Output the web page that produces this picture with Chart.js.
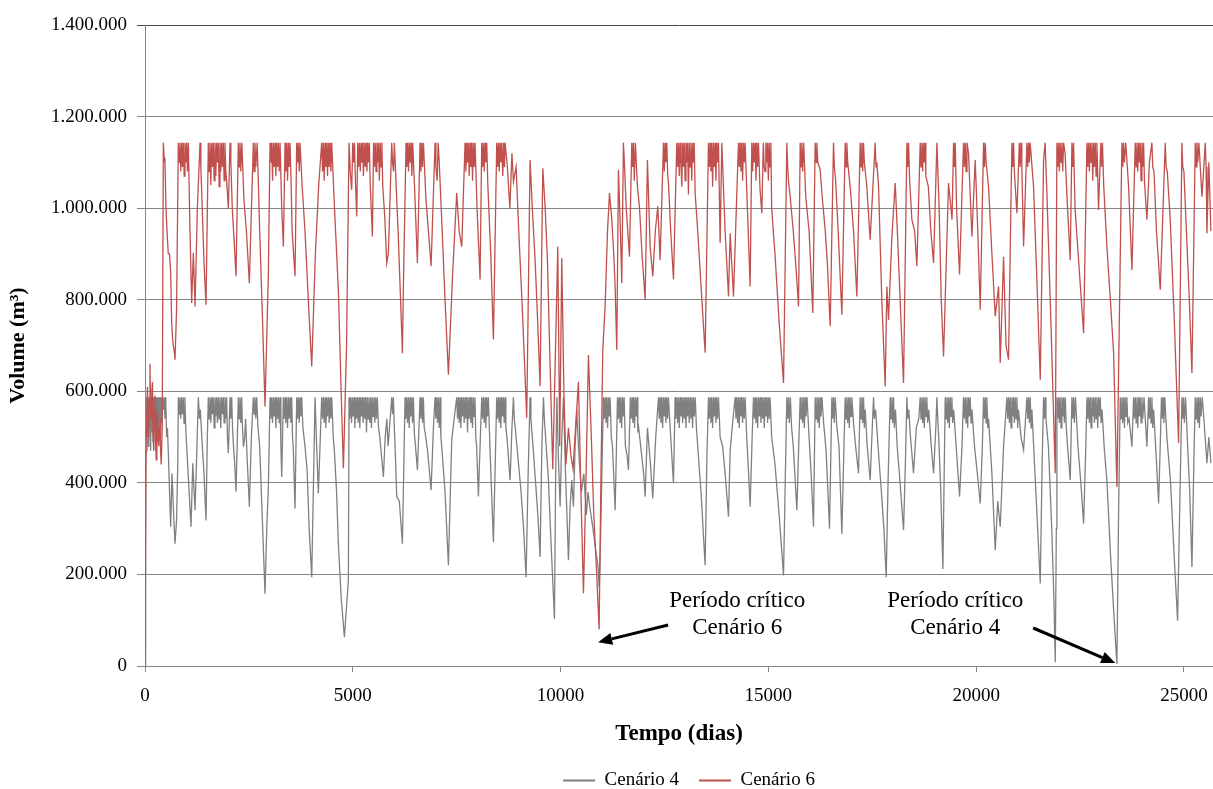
<!DOCTYPE html>
<html>
<head>
<meta charset="utf-8">
<script src="https://cdn.jsdelivr.net/npm/chart.js@4.4.1/dist/chart.umd.min.js"></script>
<style>
html, body { margin: 0; padding: 0; background: #fff; overflow: hidden; }
#box { width: 1213px; height: 800px; }
</style>
</head>
<body>
<div id="box"><canvas id="grafico" width="1213" height="800"></canvas></div>
<script>
// volumes in thousands of m3, [dia, volume]
const cenario4 = [
  [0,0],[15,420],[30,587],[45,500],[60,587],[75,480],[90,587],[105,520],[120,587],[135,470],[150,587],[165,510],[180,587],[195,490],[210,587],
  [225,530],[240,587],[255,470],[270,587],[285,510],[300,587],[315,490],[330,587],[345,540],[360,587],[375,500],[390,587],[405,530],[420,587],
  [441,560],[460,587],[480,540],[500,587],[520,500],[540,520],[562,465],[590,380],[618,304],[650,421],[690,330],[722,267],[760,318],[790,450],
  [802,587],[820,550],[840,587],[860,540],[880,587],[900,550],[920,587],[940,530],[960,587],[980,520],[1003,479],[1050,400],[1107,304],[1150,443],
  [1204,340],[1250,480],[1284,587],[1310,540],[1330,560],[1380,479],[1420,420],[1468,318],[1500,500],[1524,587],
  [1544,540],[1564,587],[1584,531],[1604,587],[1624,550],[1644,587],[1664,520],[1684,587],[1704,545],[1724,587],[1744,531],[1764,587],[1784,540],
  [1804,587],[1824,520],[1844,587],[1864,550],[1884,587],[1904,531],[1924,587],[1944,540],[1964,587],[1984,500],[2006,465],[2046,587],[2066,540],
  [2086,587],[2106,520],[2130,480],[2160,440],[2190,381],[2246,587],[2266,540],[2286,587],[2306,531],[2326,587],[2346,520],[2370,479],[2400,500],
  [2420,540],[2460,450],[2511,348],[2560,500],[2607,587],[2627,550],[2647,587],[2667,540],[2687,587],[2720,520],[2760,480],[2820,330],[2888,158],
  [2930,300],[2969,392],[3009,587],
  [3029,540],[3049,587],[3069,531],[3089,587],[3109,545],[3129,587],[3149,520],[3169,587],[3189,540],[3209,587],[3229,530],[3249,587],[3270,480],
  [3290,413],[3330,587],[3350,540],[3370,587],[3390,531],[3410,587],[3430,520],[3450,587],[3470,540],[3490,587],[3510,531],[3530,587],[3550,500],
  [3570,470],[3610,344],[3651,587],[3671,540],[3691,587],[3711,531],[3731,587],[3751,545],[3771,587],[3800,520],[3850,480],[3900,430],[3950,300],
  [4012,194],[4092,587],[4130,480],[4172,377],[4252,587],[4272,540],[4292,587],[4312,531],[4332,587],[4352,520],[4372,587],[4392,545],[4412,587],
  [4432,531],[4452,587],[4472,540],[4493,587],[4530,500],[4560,465],[4610,380],[4653,267],[4720,150],[4798,63],[4850,130],[4894,187],[4910,587],
  [4930,540],[4950,587],[4970,531],[4990,587],[5010,545],[5030,587],[5050,520],[5070,587],[5090,540],[5110,587],[5130,531],[5150,587],[5170,520],
  [5190,587],[5210,545],[5230,587],[5250,531],[5270,587],[5290,540],[5310,587],[5330,510],[5350,587],[5370,540],[5390,587],[5410,531],[5430,587],
  [5450,520],[5470,587],[5490,545],[5510,587],[5530,531],[5550,587],[5570,540],[5590,587],[5620,520],[5650,500],[5690,460],[5737,413],[5780,500],
  [5820,540],[5850,480],[5900,540],[5937,587],[5957,550],[5977,587],[6000,520],[6030,450],[6057,370],[6120,360],[6194,267],[6258,587],[6278,540],
  [6298,587],[6318,531],[6338,587],[6358,520],[6378,587],[6398,545],[6418,587],[6438,531],[6458,587],[6480,510],[6500,490],[6555,428],[6619,587],
  [6639,540],[6659,587],[6679,531],[6699,587],[6719,520],[6740,510],[6800,470],[6884,384],[6940,520],[6980,587],[7000,540],[7020,587],[7040,531],
  [7060,587],[7080,520],[7100,587],[7120,500],[7140,480],[7220,380],[7301,220],[7381,494],[7440,540],[7501,587],
  [7521,540],[7541,587],[7561,531],[7581,587],[7601,520],[7621,587],[7641,545],[7661,587],[7681,531],[7701,587],[7721,540],[7741,587],[7761,510],
  [7781,587],[7801,540],[7821,587],[7841,531],[7861,587],[7881,520],[7901,587],[7921,545],[7941,587],[7960,500],[7980,480],[8023,370],[8070,500],
  [8103,587],[8123,540],[8143,587],[8163,531],[8183,587],[8203,520],[8223,587],[8243,545],[8263,587],[8300,480],[8340,380],[8384,271],[8430,450],
  [8464,587],[8484,540],[8504,587],[8524,531],[8544,587],[8564,520],[8584,587],[8604,545],[8624,587],[8644,531],[8664,587],[8684,520],[8710,500],
  [8785,406],[8830,520],[8866,587],[8886,540],[8910,520],[8960,470],[9050,380],[9110,300],[9170,194],[9220,420],[9266,587],[9286,540],[9320,500],
  [9400,400],[9460,320],[9507,238],[9550,480],[9588,587],[9610,540],[9640,500],[9708,406],[9780,250],[9853,103],[9880,400],[9910,587],[9950,450],
  [9989,348],[10030,500],[10069,587],[10090,520],[10120,420],[10190,231],[10230,350],[10270,406],[10310,348],[10350,480],[10390,560],[10420,500],
  [10450,450],[10500,380],[10560,420],[10620,330],[10660,380],[10700,350],[10780,300],[10850,250],[10900,220],[10928,172],[10960,267],[11000,450],
  [11032,587],[11052,540],[11072,587],[11092,531],[11112,587],[11132,520],[11152,587],[11172,545],[11192,587],[11220,500],[11250,480],[11313,340],
  [11370,587],[11390,540],[11410,587],[11430,531],[11450,587],[11470,520],[11490,587],[11510,545],[11530,587],[11560,480],[11600,460],[11634,428],
  [11680,587],[11700,540],[11720,587],[11740,531],[11760,587],[11780,520],[11800,587],[11820,545],[11840,587],[11860,510],[11880,520],[11940,470],
  [12000,420],[12035,370],[12091,520],[12155,450],[12219,366],[12290,500],[12320,540],[12356,587],[12376,540],[12396,587],[12416,531],[12436,587],
  [12456,520],[12476,587],[12496,545],[12516,587],[12536,531],[12556,587],[12576,540],[12596,587],[12650,500],[12717,399],[12757,587],[12777,540],
  [12797,587],[12817,531],[12837,587],[12857,520],[12877,587],[12897,545],[12917,587],[12937,531],[12957,587],[12977,540],[12997,587],[13017,520],
  [13037,587],[13057,545],[13077,587],[13097,531],[13117,587],[13137,540],[13157,587],[13177,520],[13197,587],[13217,545],[13240,587],[13270,520],
  [13300,480],[13380,380],[13479,220],[13520,450],[13559,587],[13579,540],[13599,587],[13619,531],[13639,587],[13659,520],[13679,587],[13699,545],
  [13719,587],[13739,531],[13759,587],[13779,540],[13800,587],[13840,500],[13900,480],[13960,420],[14041,326],[14081,470],[14150,540],[14201,587],
  [14221,540],[14241,587],[14261,531],[14281,587],[14301,520],[14321,587],[14341,545],[14361,587],[14381,531],[14401,587],[14421,540],[14441,587],
  [14480,500],[14520,430],[14562,348],[14610,500],[14642,587],[14662,540],[14682,587],[14702,531],[14722,587],[14742,520],[14762,587],[14782,545],
  [14802,587],[14822,531],[14842,587],[14862,540],[14882,587],[14902,520],[14922,587],[14942,545],[14962,587],[14982,531],[15002,587],[15022,540],
  [15042,587],[15080,500],[15160,440],[15260,330],[15365,198],[15410,420],[15445,587],[15465,540],[15485,587],[15505,531],[15530,587],[15560,520],
  [15600,480],[15686,340],[15730,480],[15766,587],[15786,540],[15806,587],[15826,531],[15846,587],[15866,520],[15886,587],[15906,545],[15930,587],
  [15980,500],[16030,420],[16087,304],[16127,587],[16147,540],[16167,587],[16187,531],[16207,587],[16227,520],[16247,587],[16267,545],[16290,587],
  [16330,531],[16390,470],[16472,300],[16528,587],[16548,540],[16568,587],[16588,531],[16610,587],[16650,520],[16700,480],[16769,289],[16820,480],
  [16849,587],[16869,540],[16889,587],[16909,531],[16929,587],[16949,520],[16969,587],[16989,545],[17010,587],[17050,531],[17100,480],[17170,421],
  [17210,587],[17230,540],[17250,587],[17270,531],[17290,587],[17310,520],[17330,560],[17380,480],[17450,406],[17500,520],[17531,587],[17551,540],
  [17580,560],[17640,480],[17720,380],[17780,300],[17836,194],[17880,400],[17932,587],[17952,540],[17972,587],[17992,531],[18012,587],[18032,520],
  [18060,560],[18100,480],[18170,400],[18253,297],[18300,450],[18334,587],[18354,540],[18380,560],[18420,500],[18494,421],[18560,520],[18620,540],
  [18654,587],[18674,540],[18694,587],[18714,531],[18734,587],[18754,520],[18774,587],[18794,545],[18814,587],[18834,531],[18860,560],[18920,480],
  [18976,421],[19030,520],[19056,587],[19076,540],[19100,500],[19150,380],[19200,212],[19256,587],[19276,540],[19296,587],[19316,531],[19336,587],
  [19356,520],[19376,587],[19396,545],[19416,587],[19436,531],[19460,560],[19520,480],[19601,370],[19660,480],[19697,587],[19717,540],[19737,587],
  [19757,531],[19777,587],[19797,520],[19817,587],[19837,545],[19857,587],[19877,531],[19900,560],[19960,480],[20030,420],[20099,355],[20150,480],
  [20179,587],[20199,540],[20219,587],[20239,531],[20259,587],[20280,520],[20300,540],[20380,420],[20460,253],[20520,360],[20580,304],[20660,479],
  [20740,587],[20760,540],[20780,587],[20800,531],[20820,587],[20840,520],[20860,587],[20880,545],[20900,587],[20920,531],[20940,587],[20960,540],
  [20980,587],[21000,520],[21020,560],[21080,500],[21142,472],[21190,540],[21222,587],[21242,540],[21262,587],[21282,531],[21302,587],[21322,520],
  [21342,560],[21400,450],[21470,320],[21543,180],[21590,450],[21623,587],[21643,540],[21663,587],[21680,540],[21740,480],[21820,300],[21870,150],
  [21904,8],[21930,300],[21944,587],[21964,540],[21984,587],[22004,531],[22024,587],[22044,520],[22064,587],[22084,545],[22104,587],[22124,531],
  [22144,587],[22170,520],[22200,480],[22265,406],[22305,587],[22325,540],[22345,587],[22365,531],[22390,587],[22450,480],[22520,400],[22586,311],
  [22640,480],[22666,587],[22686,540],[22706,587],[22726,531],[22746,587],[22766,520],[22786,587],[22806,545],[22826,587],[22846,531],[22866,587],
  [22886,540],[22906,587],[22926,520],[22946,587],[22966,545],[22986,587],[23006,531],[23030,560],[23080,480],[23150,400],[23230,250],[23310,120],
  [23388,4],[23430,350],[23468,587],[23488,540],[23508,587],[23528,531],[23548,587],[23568,520],[23588,587],[23608,545],[23628,587],[23648,531],
  [23680,540],[23749,479],[23790,587],[23810,540],[23830,587],[23850,531],[23870,587],[23890,520],[23910,587],[23930,545],[23950,587],[23970,531],
  [23990,587],[24010,540],[24040,587],[24110,479],[24150,587],[24170,540],[24190,587],[24210,531],[24230,587],[24250,520],[24270,560],[24320,480],
  [24391,355],[24430,480],[24460,587],[24480,540],[24500,587],[24520,531],[24540,587],[24590,500],[24680,400],[24760,250],[24848,99],[24900,350],
  [24952,587],[24972,540],[24992,587],[25012,531],[25040,587],[25090,480],[25140,380],[25193,216],[25240,450],[25273,587],[25293,540],[25313,587],
  [25333,531],[25353,587],[25373,520],[25393,587],[25413,545],[25440,587],[25480,540],[25554,443],[25600,500],[25650,443]
]

const cenario6 = [
  [0,0],[25,470],[45,560],[60,610],[75,520],[90,500],[105,580],[120,660],[135,560],[150,540],[165,600],[180,620],[195,500],[210,470],[225,560],
  [240,590],[255,500],[270,450],[285,530],[300,560],[315,500],[330,480],[345,520],[360,540],[375,470],[390,440],[415,520],
  [441,1143],[461,1110],[481,1098],[505,1000],[530,950],[560,900],[590,900],[618,858],[642,749],[660,720],[680,700],[700,690],[722,669],[760,780],
  [802,1143],[822,1100],[842,1143],[862,1080],[882,1143],[902,1090],[922,1143],[942,1070],[962,1143],[982,1100],[1002,1143],[1022,1080],[1043,1143],
  [1080,960],[1123,793],[1163,902],[1204,785],[1260,1000],
  [1324,1143],[1344,1090],[1370,1020],[1420,880],[1468,789],
  [1524,1143],[1544,1080],[1564,1143],[1584,1050],[1604,1143],[1624,1090],[1644,1143],[1664,1060],[1684,1143],[1704,1070],[1724,1143],[1744,1100],
  [1764,1143],[1784,1047],[1804,1143],[1824,1080],[1844,1143],[1864,1090],[1884,1143],[1904,1060],[1924,1143],[1944,1080],[1964,1060],[2006,1000],
  [2046,1143],[2066,1100],[2100,1000],[2150,920],[2190,851],
  [2246,1143],[2266,1090],[2286,1143],[2306,1080],[2330,1143],[2380,1020],[2440,950],[2511,836],
  [2607,1143],[2627,1080],[2647,1143],[2667,1090],[2700,1143],[2760,950],[2830,750],[2888,567],[2969,858],
  [3009,1143],[3029,1100],[3049,1143],[3069,1060],[3089,1143],[3109,1090],[3129,1143],[3149,1070],[3169,1143],[3189,1090],[3209,1143],[3229,1080],
  [3250,1143],[3290,1000],[3330,916],[3370,1143],[3390,1080],[3410,1143],[3430,1060],[3450,1143],[3470,1090],[3490,1143],[3515,1060],[3540,950],
  [3610,851],
  [3651,1143],[3671,1100],[3691,1143],[3711,1080],[3731,1143],[3780,1050],[3850,950],[3930,800],[4012,654],
  [4100,900],[4180,1050],[4252,1143],[4272,1080],[4292,1143],[4312,1060],[4332,1143],[4352,1090],[4372,1143],[4392,1070],[4412,1143],[4432,1090],
  [4452,1143],[4472,1080],[4493,1143],[4560,1000],[4653,821],[4720,600],[4774,432],[4850,700],
  [4910,1143],[4940,1080],[4974,1040],[5000,1143],[5020,1100],[5040,1143],[5060,1070],[5095,982],[5120,1143],[5140,1090],[5160,1143],[5180,1080],
  [5200,1143],[5220,1100],[5240,1143],[5255,1070],[5280,1143],[5300,1090],[5320,1143],[5340,1080],[5360,1143],[5380,1100],[5400,1143],[5420,1050],
  [5472,938],[5500,1143],[5520,1090],[5540,1143],[5560,1080],[5580,1143],[5600,1100],[5620,1143],[5640,1060],[5660,1143],[5680,1090],[5700,1143],
  [5720,1050],[5770,980],[5817,880],[5857,902],
  [5937,1143],[5957,1100],[5980,1080],[6000,1143],[6020,1100],[6090,950],[6150,800],[6194,683],[6218,829],
  [6282,1143],[6302,1090],[6322,1143],[6342,1080],[6362,1143],[6382,1100],[6402,1143],[6422,1070],[6442,1143],[6480,1060],[6555,880],
  [6619,1143],[6639,1080],[6659,1143],[6679,1090],[6700,1143],[6760,1020],[6820,950],[6884,873],
  [6980,1143],[7000,1090],[7030,1060],[7055,1143],[7080,1100],[7140,975],[7220,800],[7301,636],[7400,850],[7501,1033],[7560,950],[7622,916],
  [7702,1143],[7722,1080],[7742,1143],[7762,1100],[7782,1143],[7802,1070],[7822,1143],[7842,1090],[7862,1143],[7882,1060],[7902,1143],[7922,1090],
  [7942,1143],[7990,1000],[8063,844],
  [8103,1143],[8123,1090],[8143,1143],[8163,1080],[8183,1143],[8203,1100],[8223,1143],[8250,1050],[8320,900],[8384,713],
  [8464,1143],[8484,1090],[8504,1143],[8524,1080],[8544,1143],[8564,1100],[8584,1143],[8610,1070],[8630,1143],[8650,1090],[8665,1143],[8720,1090],
  [8780,1000],[8830,1120],[8866,1058],[8930,1090],[8986,967],[9080,780],[9186,542],
  [9266,1105],[9320,1000],[9387,887],[9450,750],[9507,611],[9572,1087],[9630,1000],[9684,887],[9750,650],[9813,430],[9880,700],[9933,916],
  [9980,480],[10029,891],[10080,600],[10130,440],[10190,520],[10250,460],[10300,430],[10360,520],[10430,621],[10490,380],[10551,159],[10610,400],
  [10671,679],[10740,500],[10800,330],[10870,200],[10928,80],
  [10970,400],[11016,690],[11072,785],[11130,950],[11177,1033],[11233,975],[11280,900],[11313,829],[11353,690],[11393,1084],[11440,950],[11473,836],
  [11513,1143],[11540,1090],[11580,1000],[11658,894],[11714,1143],[11734,1090],[11754,1143],[11774,1060],[11800,1143],[11850,1047],[11900,1000],
  [11960,900],[12035,800],[12091,1105],[12155,916],[12219,851],[12280,950],[12340,1004],[12396,887],
  [12476,1143],[12496,1080],[12516,1143],[12536,1100],[12556,1143],[12580,1070],[12600,1050],[12650,950],[12717,844],[12797,1143],[12817,1090],
  [12837,1143],[12857,1070],[12877,1143],[12897,1100],[12917,1047],[12937,1143],[12957,1090],[12977,1143],[12997,1060],[13017,1143],[13037,1100],
  [13057,1143],[13077,1030],[13097,1143],[13117,1090],[13137,1143],[13157,1060],[13177,1143],[13197,1100],[13217,1143],[13238,1033],[13300,950],
  [13400,800],[13479,684],
  [13559,1143],[13579,1090],[13599,1143],[13619,1080],[13639,1143],[13659,1047],[13679,1143],[13699,1090],[13719,1143],[13739,1060],[13759,1143],
  [13779,1100],[13800,1143],[13840,924],[13880,1143],[13960,950],[14041,807],[14081,945],[14161,807],
  [14281,1143],[14301,1090],[14321,1143],[14341,1080],[14361,1143],[14381,1060],[14401,1143],[14421,1100],[14441,1143],[14480,1040],[14562,829],
  [14602,1143],[14622,1080],[14642,1143],[14662,1100],[14682,1143],[14702,1060],[14722,1143],[14742,1090],[14762,1143],[14800,1040],[14843,989],
  [14880,1143],[14900,1090],[14920,1080],[14940,1143],[14960,1100],[14980,1143],[15000,1060],[15020,1143],[15040,1090],[15060,1143],[15080,1000],
  [15160,900],[15260,750],[15365,618],
  [15445,1143],[15465,1090],[15485,1060],[15525,1025],[15600,950],[15680,850],[15726,785],
  [15766,1143],[15786,1090],[15806,1143],[15826,1080],[15850,1143],[15900,1025],[15980,950],[16070,771],
  [16127,1143],[16147,1100],[16167,1143],[16190,1100],[16247,1084],[16300,1020],[16367,953],[16420,880],[16488,742],
  [16568,1143],[16590,1090],[16620,1060],[16680,950],[16769,767],
  [16849,1143],[16869,1090],[16889,1143],[16910,1100],[16969,1047],[17050,950],[17130,807],
  [17210,1143],[17230,1090],[17250,1143],[17270,1080],[17290,1143],[17310,1100],[17370,1047],[17450,931],
  [17571,1143],[17591,1090],[17610,1100],[17652,1047],[17730,800],[17812,611],[17852,829],[17892,756],[17973,938],[18053,1055],[18110,938],
  [18180,780],[18253,618],
  [18334,1143],[18354,1090],[18374,1143],[18400,1060],[18454,975],[18520,950],[18574,873],
  [18654,1143],[18674,1090],[18694,1143],[18714,1080],[18734,1143],[18754,1100],[18774,1143],[18790,1070],[18850,1047],[18910,950],[18976,880],
  [19056,1143],[19076,1090],[19110,1000],[19160,800],[19216,676],[19336,1055],[19420,975],[19457,1143],[19477,1090],[19497,1143],[19530,1000],
  [19601,855],
  [19697,1143],[19717,1090],[19737,1143],[19757,1080],[19780,1143],[19817,1120],[19898,938],[19978,1105],[20040,950],[20099,778],
  [20179,1143],[20199,1090],[20219,1143],[20240,1100],[20299,1047],[20380,900],[20460,764],[20540,829],[20580,662],[20660,894],[20720,700],
  [20780,669],
  [20861,1143],[20881,1090],[20901,1143],[20920,1080],[20981,989],[21040,1143],[21060,1090],[21080,1143],[21100,1090],[21142,916],[21222,1143],
  [21242,1090],[21262,1143],[21282,1100],[21300,1143],[21382,1047],[21460,850],[21543,625],[21623,1105],[21660,1143],[21700,1040],[21800,750],
  [21904,421],
  [21944,1143],[21964,1090],[21984,1143],[22004,1080],[22024,1143],[22044,1100],[22064,1143],[22084,1080],[22104,1143],[22140,1120],[22200,1000],
  [22265,887],[22305,1143],[22325,1090],[22345,1143],[22380,1000],[22465,887],[22586,727],
  [22666,1143],[22686,1090],[22706,1143],[22726,1080],[22746,1143],[22766,1100],[22786,1143],[22806,1060],[22826,1143],[22846,1090],[22866,1143],
  [22886,1070],[22906,1143],[22946,996],[23000,1143],[23020,1090],[23040,1143],[23070,1050],[23147,916],[23230,800],[23308,684],[23388,391],
  [23508,1143],[23528,1090],[23548,1143],[23568,1100],[23600,1143],[23669,1047],[23749,865],[23829,1143],[23849,1090],[23869,1143],[23889,1080],
  [23909,1143],[23929,1100],[23949,1143],[23969,1060],[23989,1143],[24009,1090],[24030,1143],[24050,1060],[24110,975],[24170,1100],[24230,1143],
  [24250,1090],[24280,1080],[24340,950],[24431,822],
  [24551,1143],[24571,1090],[24600,1080],[24671,975],[24770,750],[24872,487],
  [24952,1143],[24972,1090],[25000,1080],[25060,950],[25130,800],[25193,640],
  [25273,1143],[25293,1090],[25313,1143],[25333,1100],[25360,1143],[25434,1025],[25514,1143],[25534,1090],[25554,945],[25600,1100],[25650,950]
]

const nomes = ['Cenário 4', 'Cenário 6']
const cores = ['#808080', '#C0504D']
const yTicks = [0, 200000, 400000, 600000, 800000, 1000000, 1200000, 1400000]
const xTicks = [0, 5000, 10000, 15000, 20000, 25000]

// text notes: centre day, volume per line, arrow from / to (day, m3)
const notas = [
  {linhas: ['Período crítico', 'Cenário 6'], x: 14250, y: [142000, 83000], de: [12589, 89500], para: [10904, 52000]},
  {linhas: ['Período crítico', 'Cenário 4'], x: 19497, y: [142000, 83000], de: [21374, 83000], para: [23348, 6500]}
]

const toPoints = arr => arr.map(p => ({x: p[0], y: p[1] * 1000}))
const fmt = v => String(v).replace(/\B(?=(\d{3})+(?!\d))/g, '.')
const serif = 'Liberation Serif'

function seta(ctx, x1, y1, x2, y2) {
    const ang = Math.atan2(y2 - y1, x2 - x1)
    const len = 14, half = 6
    const bx = x2 - len * Math.cos(ang), by = y2 - len * Math.sin(ang)
    ctx.strokeStyle = '#000'
    ctx.lineWidth = 3
    ctx.beginPath()
    ctx.moveTo(x1, y1)
    ctx.lineTo(bx, by)
    ctx.stroke()
    ctx.beginPath()
    ctx.moveTo(x2, y2)
    ctx.lineTo(bx + half * Math.sin(ang), by - half * Math.cos(ang))
    ctx.lineTo(bx - half * Math.sin(ang), by + half * Math.cos(ang))
    ctx.closePath()
    ctx.fill()
}

const notasPlugin = {
    id: 'notas',
    afterLayout(chart) {
        // nudge the legend a bit right, like the original
        chart.legend.left += 10
        chart.legend.right += 10
    },
    afterDatasetsDraw(chart) {
        const {ctx, scales: {x, y}} = chart
        ctx.save()
        ctx.font = '23px "' + serif + '"'
        ctx.fillStyle = '#000'
        ctx.textAlign = 'center'
        ctx.textBaseline = 'middle'
        notas.forEach(n => {
            const cx = x.getPixelForValue(n.x)
            n.linhas.forEach((t, i) => ctx.fillText(t, cx, y.getPixelForValue(n.y[i])))
            seta(ctx, x.getPixelForValue(n.de[0]), y.getPixelForValue(n.de[1]),
                x.getPixelForValue(n.para[0]), y.getPixelForValue(n.para[1]))
        })
        ctx.restore()
    }
}

Chart.defaults.font.family = serif
Chart.defaults.color = '#000'

new Chart(document.getElementById('grafico'), {
    type: 'line',
    data: {
        datasets: [cenario4, cenario6].map((serie, i) => ({
            label: nomes[i],
            data: toPoints(serie),
            borderColor: cores[i],
            backgroundColor: cores[i],
            pointBorderColor: cores[i],
            pointBackgroundColor: cores[i],
            pointBorderWidth: 2,
            borderWidth: 1.3,
            pointRadius: 0,
            tension: 0,
            order: i === 0 ? 1 : 0
        }))
    },
    options: {
        responsive: false,
        animation: false,
        events: [],
        layout: {padding: {top: 25, right: 0, left: 0, bottom: 0}},
        plugins: {
            tooltip: {enabled: false},
            legend: {
                position: 'bottom',
                fullSize: false,
                labels: {
                    usePointStyle: true,
                    pointStyle: 'line',
                    pointStyleWidth: 32,
                    padding: 20,
                    font: {size: 19},
                    sort: (a, b) => a.datasetIndex - b.datasetIndex
                }
            }
        },
        scales: {
            x: {
                type: 'linear',
                min: 0,
                max: 25700,
                afterBuildTicks: s => { s.ticks = xTicks.map(v => ({value: v})) },
                afterFit: s => { s.height = 85; s.paddingRight = 0; s.paddingLeft = 0 },
                ticks: {font: {size: 19}, padding: 13, maxRotation: 0, callback: v => String(v)},
                grid: {drawOnChartArea: false, drawTicks: true, tickLength: 6, color: '#868686'},
                border: {color: '#868686'},
                title: {display: true, text: 'Tempo (dias)', font: {size: 23, weight: 'bold'}, padding: {top: 0, bottom: 3}}
            },
            y: {
                min: 0,
                max: 1400000,
                afterBuildTicks: s => { s.ticks = yTicks.map(v => ({value: v})) },
                afterFit: s => { s.width = 145 },
                ticks: {font: {size: 19}, padding: 10, callback: v => fmt(v)},
                grid: {
                    tickLength: 8,
                    color: c => c.tick && c.tick.value === 1400000 ? '#4a4a4a' : '#868686',
                    lineWidth: 1
                },
                border: {color: '#868686'},
                title: {display: true, text: 'Volume (m³)', font: {size: 22, weight: 'bold'}, padding: {top: 5, bottom: 0}}
            }
        }
    },
    plugins: [notasPlugin]
})
</script>
</body>
</html>
